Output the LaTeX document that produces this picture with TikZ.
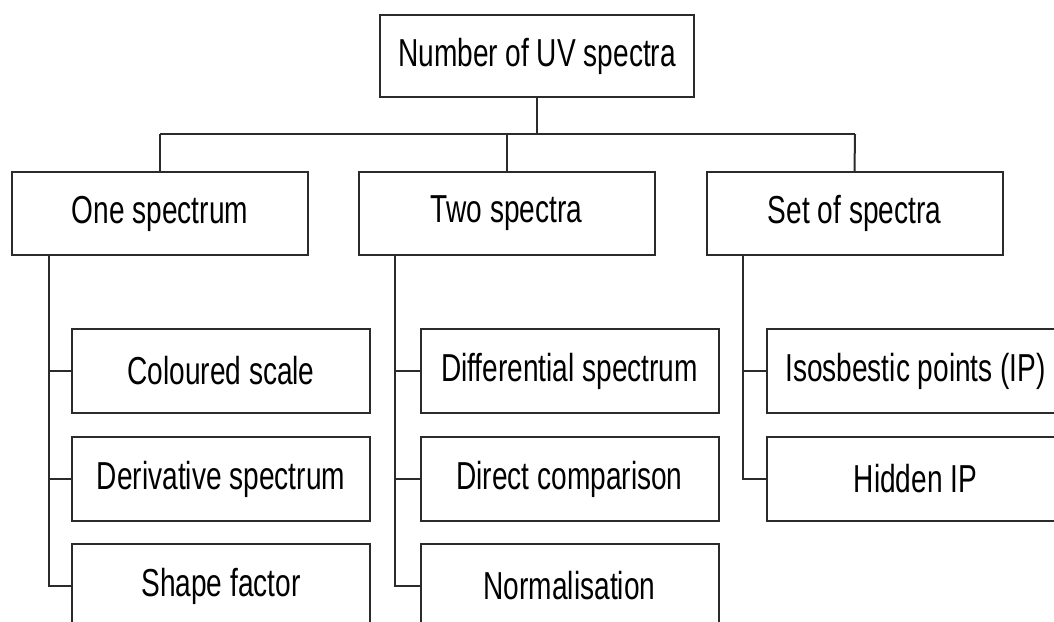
\documentclass[tikz,border=0pt]{standalone}
\usepackage{fontspec}
\setmainfont{Liberation Sans}[FakeStretch=0.72]
\definecolor{linec}{HTML}{2B2B2B}
\begin{document}
\begin{tikzpicture}[x=1pt,y=-1pt,
  box/.style={draw=linec, line width=2pt, fill=white, minimum height=82pt, inner sep=0pt,
     font=\fontsize{39}{45}\selectfont, text=black},
  topbox/.style={box, minimum width=314pt},
  midbox/.style={box, minimum width=296pt, minimum height=83pt},
  leafbox/.style={box, minimum width=298pt, minimum height=84pt},
  conn/.style={draw=linec, line width=2pt}]
\useasboundingbox (0,0) rectangle (1054,621);
\clip (0,0) rectangle (1054,621);
\fill[white] (0,0) rectangle (1054,621);

\node[topbox] (top) at (537,56) {Number of UV spectra};

\node[midbox] (one) at (160,213.5) {One spectrum};
\node[midbox] (two) at (506.5,213.5) {Two spectra};
\node[midbox] (set) at (854.5,213.5) {Set of spectra};

\node[leafbox] (a1) at (221,371) {Coloured scale};
\node[leafbox] (a2) at (221,479) {Derivative spectrum};
\node[leafbox] (a3) at (221,586) {Shape factor};

\node[leafbox] (b1) at (569.5,371) {Differential spectrum};
\node[leafbox] (b2) at (569.5,479) {Direct comparison};
\node[leafbox] (b3) at (569.5,586) {Normalisation};

\node[leafbox] (c1) at (915.5,371) {Isosbestic points (IP)};
\node[leafbox] (c2) at (915.5,479) {Hidden IP};

\coordinate (busL) at (160,134);
\coordinate (busR) at (855,134);
\coordinate (oneV) at ([xshift=37.5pt]one.south west);
\coordinate (twoV) at ([xshift=37.5pt]two.south west);
\coordinate (setV) at ([xshift=37.5pt]set.south west);

\draw[conn] (top.south) -- (top.south |- busL);
\draw[conn] (busL) -- (busR);
\draw[conn] (busL) -- (one.north);
\draw[conn] (two.north |- busL) -- (two.north);
\draw[conn] (busR) -- (set.north);

\draw[conn] (oneV) |- (a1.west);
\draw[conn] (oneV) |- (a2.west);
\draw[conn] (oneV) |- (a3.west);
\draw[conn] (twoV) |- (b1.west);
\draw[conn] (twoV) |- (b2.west);
\draw[conn] (twoV) |- (b3.west);
\draw[conn] (setV) |- (c1.west);
\draw[conn] (setV) |- (c2.west);
\end{tikzpicture}
\end{document}
